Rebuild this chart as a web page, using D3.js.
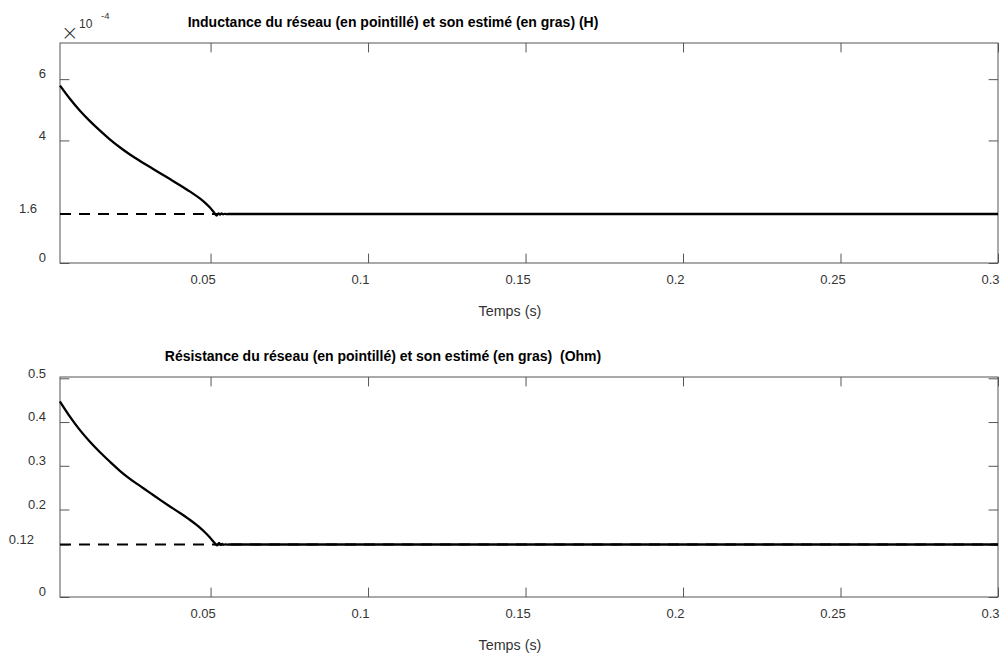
<!DOCTYPE html>
<html>
<head>
<meta charset="utf-8">
<script src="https://cdn.jsdelivr.net/npm/d3@7"></script>
<style>
  html, body { margin: 0; padding: 0; background: #fff; }
  svg { display: block; font-family: "Liberation Sans", Arial, Helvetica, sans-serif; }
  .title { white-space: pre; }
</style>
</head>
<body>
<svg id="chart" width="1005" height="658"></svg>
<script>
// ---- data ----
const timeL = [0.0022, 0.0054, 0.0086, 0.0117, 0.0149, 0.0181, 0.0213, 0.0244, 0.0276, 0.0308, 0.0340, 0.0371, 0.0403, 0.0435, 0.0467, 0.0482, 0.0498, 0.0511, 0.0519, 0.0525, 0.0530, 0.0535, 0.0540, 0.0545, 0.0550, 0.0556, 0.3];
const estL  = [5.79, 5.35, 4.96, 4.63, 4.32, 4.03, 3.77, 3.54, 3.33, 3.13, 2.93, 2.74, 2.54, 2.33, 2.10, 1.97, 1.81, 1.65, 1.55, 1.62, 1.58, 1.615, 1.59, 1.605, 1.595, 1.60, 1.60]; // ×10^-4 H
const refL  = 1.6; // ×10^-4 H (dashed reference)

const timeR = [0.0022, 0.0054, 0.0086, 0.0117, 0.0149, 0.0181, 0.0213, 0.0244, 0.0276, 0.0308, 0.0340, 0.0371, 0.0403, 0.0435, 0.0467, 0.0482, 0.0498, 0.0511, 0.0521, 0.0527, 0.0532, 0.0537, 0.0542, 0.0547, 0.0552, 0.0558, 0.3];
const estR  = [0.447, 0.412, 0.381, 0.355, 0.331, 0.309, 0.288, 0.270, 0.254, 0.238, 0.222, 0.207, 0.192, 0.176, 0.158, 0.148, 0.136, 0.125, 0.118, 0.1235, 0.119, 0.1215, 0.1195, 0.1205, 0.1198, 0.120, 0.120]; // Ohm
const refR  = 0.12;

const xTicks = [0.05, 0.1, 0.15, 0.2, 0.25, 0.3];
const xTickLabels = ["0.05", "0.1", "0.15", "0.2", "0.25", "0.3"];
const yTicksL = [0, 1.6, 4, 6];
const yTickLabelsL = ["0", "1.6", "4", "6"];
const yTicksR = [0, 0.12, 0.2, 0.3, 0.4, 0.5];
const yTickLabelsR = ["0", "0.12", "0.2", "0.3", "0.4", "0.5"];

const titleL = "Inductance du réseau (en pointillé) et son estimé (en gras) (H)";
const titleR = "Résistance du réseau (en pointillé) et son estimé (en gras)  (Ohm)";
const xLabel = "Temps (s)";

// ---- layout ----
const svg = d3.select("#chart");
const left = 60, right = 998;
const tickLen = 9.4;
const axisColor = "#555";
const textColor = "#333";
const tickFont = 13;

function panel(cfg) {
  const { top, bottom, yMax, times, est, ref, yTicks, yLabels, title, titleX, special, specialDx } = cfg;
  const x = d3.scaleLinear().domain([0.0022, 0.3]).range([left, right]);
  const y = d3.scaleLinear().domain([0, yMax]).range([bottom, top]);
  const g = svg.append("g");

  // box
  g.append("rect").attr("x", left).attr("y", top).attr("width", right - left).attr("height", bottom - top)
    .attr("fill", "none").attr("stroke", axisColor).attr("stroke-width", 1);

  // bottom axis (inward ticks)
  const xb = g.append("g").attr("transform", `translate(0,${bottom})`)
    .call(d3.axisBottom(x).tickValues(xTicks).tickSize(-tickLen).tickPadding(9)
      .tickFormat((d, i) => xTickLabels[i]));
  xb.select(".domain").remove();
  xb.selectAll("line").attr("stroke", axisColor);
  xb.selectAll("text").attr("fill", textColor).attr("font-size", tickFont).attr("dx", -8).attr("dy", "0.9em");

  const xt = g.append("g").attr("transform", `translate(0,${top})`)
    .call(d3.axisTop(x).tickValues(xTicks).tickSize(-tickLen).tickFormat(""));
  xt.select(".domain").remove();
  xt.selectAll("line").attr("stroke", axisColor);

  // left axis
  const yl = g.append("g").attr("transform", `translate(${left},0)`)
    .call(d3.axisLeft(y).tickValues(yTicks).tickSize(-tickLen).tickPadding(14)
      .tickFormat((d, i) => yLabels[i]));
  yl.select(".domain").remove();
  yl.selectAll("line").attr("stroke", axisColor);
  yl.selectAll("text").attr("fill", textColor).attr("font-size", tickFont).attr("dy", "-0.1em")
    .attr("dx", d => (d === special ? specialDx : 0));

  const yr = g.append("g").attr("transform", `translate(${right},0)`)
    .call(d3.axisRight(y).tickValues(yTicks).tickSize(-tickLen).tickFormat(""));
  yr.select(".domain").remove();
  yr.selectAll("line").attr("stroke", axisColor);

  // estimate (bold) and reference (dashed)
  const pts = times.map((t, i) => [t, est[i]]);
  g.append("path").datum(pts)
    .attr("fill", "none").attr("stroke", "#000").attr("stroke-width", 2.3).attr("stroke-linejoin", "round")
    .attr("d", d3.line().x(d => x(d[0])).y(d => y(d[1])).curve(d3.curveMonotoneX));
  g.append("path").datum([[0.0022, ref], [0.3, ref]])
    .attr("fill", "none").attr("stroke", "#000").attr("stroke-width", 2.2).attr("stroke-dasharray", "11,8")
    .attr("d", d3.line().x(d => x(d[0])).y(d => y(d[1])));

  // title
  g.append("text").attr("class", "title").attr("x", titleX).attr("y", top - 16).attr("text-anchor", "middle")
    .attr("font-size", 14).attr("font-weight", "bold").attr("fill", "#000").text(title);

  // x label
  g.append("text").attr("x", 510).attr("y", bottom + 53).attr("text-anchor", "middle")
    .attr("font-size", 14.3).attr("fill", textColor).text(xLabel);
  return { x, y, g };
}

panel({ top: 43, bottom: 263, yMax: 7.18, times: timeL, est: estL, ref: refL,
  yTicks: yTicksL, yLabels: yTickLabelsL, title: titleL, titleX: 393, special: 1.6, specialDx: -9 });
panel({ top: 377, bottom: 597, yMax: 0.503, times: timeR, est: estR, ref: refR,
  yTicks: yTicksR, yLabels: yTickLabelsR, title: titleR, titleX: 383, special: 0.12, specialDx: -12 });

// exponent marker ×10^-4
const ex = svg.append("g").attr("fill", textColor);
ex.append("text").attr("x", 61).attr("y", 40).attr("font-size", 21).attr("font-family", "DejaVu Sans").attr("font-weight", 200).text("×");
ex.append("text").attr("x", 79).attr("y", 28).attr("font-size", 12).text("10");
ex.append("text").attr("x", 101).attr("y", 19).attr("font-size", 9.5).text("-4");
</script>
</body>
</html>
